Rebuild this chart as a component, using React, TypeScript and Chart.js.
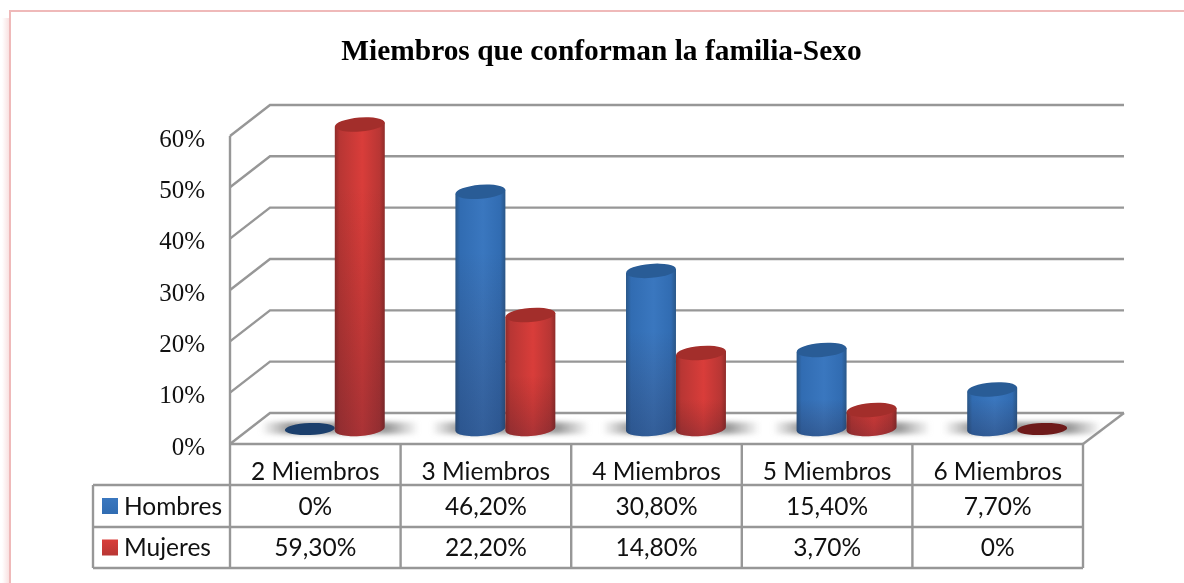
import React, { useEffect, useRef } from "react";
import { Chart, registerables } from "chart.js";

Chart.register(...registerables);

const categories = ["2 Miembros", "3 Miembros", "4 Miembros", "5 Miembros", "6 Miembros"];
const hombres = [0, 46.2, 30.8, 15.4, 7.7];
const mujeres = [59.3, 22.2, 14.8, 3.7, 0];
const seriesNames = ["Hombres", "Mujeres"];
const yTicks = [0, 10, 20, 30, 40, 50, 60];

const SERIF = '"Liberation Serif", serif';
const SANS = 'Lato, sans-serif';
const GRID = "#979797";
const DX = 40;
const DY = -31;
const BX = 19.5;
const BY = -15;
const TABLE_LEFT = 93;
const ROWS = [485, 527, 568];

const palette = [
  { edge: "#2a5788", mid: "#3a77bf", low: "#316cb2", top: "#295c96", flat: "#1b3f6c" },
  { edge: "#8f2c2a", mid: "#d93d3a", low: "#b83634", top: "#a32e2b", flat: "#6e1a1a" },
];

const fmt = (v: number) => (v === 0 ? "0%" : v.toFixed(2).replace(".", ",") + "%");

const line = (c: CanvasRenderingContext2D, pts: number[][]) => {
  c.beginPath();
  pts.forEach((p, i) => (i ? c.lineTo(p[0], p[1]) : c.moveTo(p[0], p[1])));
  c.stroke();
};

const framePlugin = {
  id: "frame",
  beforeDraw(chart: any) {
    const c = chart.ctx;
    c.save();
    c.fillStyle = "#fff";
    c.fillRect(0, 0, chart.width, chart.height);
    const g = c.createLinearGradient(2, 0, 9, 0);
    g.addColorStop(0, "rgba(240,180,180,0)");
    g.addColorStop(1, "rgba(240,180,180,0.4)");
    c.fillStyle = g;
    c.fillRect(0, 18, 9, chart.height);
    c.strokeStyle = "#efb9b9";
    c.lineWidth = 2;
    line(c, [[10, chart.height], [10, 11], [chart.width, 11]]);
    c.restore();
  },
};

const wallsPlugin = {
  id: "walls",
  afterLayout(chart: any) {
    if (chart.titleBlock) {
      chart.titleBlock.left += 60;
      chart.titleBlock.right += 60;
    }
  },
  beforeDatasetsDraw(chart: any) {
    const c = chart.ctx;
    const { left, right, bottom, top } = chart.chartArea;
    const y = chart.scales.y;
    c.save();
    c.strokeStyle = GRID;
    c.lineWidth = 2.4;
    yTicks.forEach((t) => {
      const py = y.getPixelForValue(t);
      line(c, [[left, py], [left + DX, py + DY], [right + DX + 1, py + DY]]);
    });
    line(c, [[left, top], [left, bottom]]);
    line(c, [[right, bottom], [right + DX + 1, bottom + DY]]);
    c.restore();
  },
};

const cylinderPlugin = {
  id: "cylinders",
  afterDatasetsDraw(chart: any) {
    const c = chart.ctx;
    const metas = [chart.getDatasetMeta(0), chart.getDatasetMeta(1)];
    const tilt = -0.08;
    const ry = 7;
    c.save();
    c.filter = "blur(2.5px)";
    categories.forEach((_, i) => {
      const a = metas[0].data[i];
      const b = metas[1].data[i];
      const yb = a.base + BY;
      const x0 = a.x + BX - a.width / 2 - 24;
      const x1 = b.x + BX + b.width / 2 + 34;
      const g = c.createLinearGradient(x0, 0, x1, 0);
      g.addColorStop(0, "rgba(120,120,120,0)");
      g.addColorStop(0.18, "rgba(120,120,120,0.75)");
      g.addColorStop(0.8, "rgba(120,120,120,0.75)");
      g.addColorStop(1, "rgba(120,120,120,0)");
      c.fillStyle = g;
      c.fillRect(x0, yb - 7, x1 - x0, 12);
    });
    c.restore();

    metas.forEach((meta, s) => {
      const p = palette[s];
      meta.data.forEach((bar: any) => {
        const cx = bar.x + BX;
        const rx = bar.width / 2;
        const yb = bar.base + BY;
        const yt = bar.y + BY;
        const dy = rx * Math.sin(-tilt);
        if (yb - yt < 1) {
          c.fillStyle = p.flat;
          c.beginPath();
          c.ellipse(cx, yb, rx, ry - 1, tilt / 2, 0, Math.PI * 2);
          c.fill();
          return;
        }
        const g = c.createLinearGradient(cx - rx, 0, cx + rx, 0);
        g.addColorStop(0, p.edge);
        g.addColorStop(0.1, p.low);
        g.addColorStop(0.55, p.mid);
        g.addColorStop(0.9, p.low);
        g.addColorStop(1, p.edge);
        c.fillStyle = g;
        c.beginPath();
        c.moveTo(cx - rx, yt + dy);
        c.lineTo(cx - rx, yb + dy);
        c.ellipse(cx, yb, rx, ry, tilt, Math.PI, 0, true);
        c.lineTo(cx + rx, yt - dy);
        c.closePath();
        c.fill();
        const v = c.createLinearGradient(0, Math.min(yt + 60, yb - 30), 0, yb + ry);
        v.addColorStop(0, "rgba(60,20,20,0)");
        v.addColorStop(1, "rgba(30,20,40,0.25)");
        c.fillStyle = v;
        c.fill();
        c.fillStyle = p.top;
        c.beginPath();
        c.ellipse(cx, yt, rx, ry, tilt, 0, Math.PI * 2);
        c.fill();
      });
    });
  },
};

const tablePlugin = {
  id: "dataTable",
  afterDraw(chart: any) {
    const c = chart.ctx;
    const { left, right, bottom } = chart.chartArea;
    const xs = chart.scales.x;
    const step = (right - left) / categories.length;
    c.save();
    c.strokeStyle = GRID;
    c.lineWidth = 2.4;
    line(c, [[left, bottom], [right, bottom]]);
    categories.forEach((_, i) => {
      const px = left + step * i;
      line(c, [[px, bottom], [px, ROWS[2]]]);
    });
    line(c, [[right, bottom], [right, ROWS[2]]]);
    ROWS.forEach((r) => line(c, [[TABLE_LEFT, r], [right, r]]));
    line(c, [[TABLE_LEFT, ROWS[0]], [TABLE_LEFT, ROWS[2]]]);
    c.font = "24.5px " + SANS;
    c.textBaseline = "middle";
    [hombres, mujeres].forEach((vals, s) => {
      const cy = (ROWS[s] + ROWS[s + 1]) / 2;
      const g = c.createLinearGradient(0, cy - 8, 0, cy + 8);
      g.addColorStop(0, palette[s].mid);
      g.addColorStop(1, palette[s].low);
      c.fillStyle = g;
      c.fillRect(102, cy - 8, 16, 16);
      c.fillStyle = "#111";
      c.textAlign = "left";
      c.fillText(seriesNames[s], 124, cy + 1);
      c.textAlign = "center";
      vals.forEach((v, i) => c.fillText(fmt(v), xs.getPixelForTick(i), cy + 1));
    });
    c.restore();
  },
};

export default function App() {
  const ref = useRef<HTMLCanvasElement>(null);
  useEffect(() => {
    const chart = new Chart(ref.current as HTMLCanvasElement, {
      type: "bar",
      data: {
        labels: categories,
        datasets: [
          { label: seriesNames[0], data: hombres, backgroundColor: "rgba(0,0,0,0)", borderWidth: 0 },
          { label: seriesNames[1], data: mujeres, backgroundColor: "rgba(0,0,0,0)", borderWidth: 0 },
        ],
      },
      options: {
        responsive: false,
        animation: false,
        layout: { padding: { top: 0, right: 101, bottom: 0, left: 0 } },
        datasets: { bar: { categoryPercentage: 0.586, barPercentage: 1 } },
        plugins: {
          legend: { display: false },
          tooltip: { enabled: false },
          title: {
            display: true,
            text: "Miembros que conforman la familia-Sexo",
            color: "#000",
            font: { family: SERIF, size: 29.4, weight: "bold", lineHeight: 1.2 },
            padding: { top: 35, bottom: 65.7 },
          },
        },
        scales: {
          x: {
            border: { display: false },
            grid: { display: false },
            afterFit: (s: any) => { s.height = 139; },
            ticks: {
              color: "#111",
              maxRotation: 0,
              autoSkip: false,
              padding: 5,
              font: { family: SANS, size: 24.5 },
            },
          },
          y: {
            min: 0,
            max: 60,
            border: { display: false },
            grid: { display: false },
            afterFit: (s: any) => { s.width = 230; },
            ticks: {
              stepSize: 10,
              color: "#111",
              padding: 17,
              labelOffset: 4,
              callback: (v: any) => v + "%",
              font: { family: SERIF, size: 25 },
            },
          },
        },
      },
      plugins: [framePlugin, wallsPlugin, cylinderPlugin, tablePlugin],
    } as any);
    return () => chart.destroy();
  }, []);
  return (
    <div style={{ position: "fixed", left: 0, top: 0, width: 1184, height: 583 }}>
      <canvas ref={ref} width={1184} height={583} style={{ display: "block" }} />
    </div>
  );
}
